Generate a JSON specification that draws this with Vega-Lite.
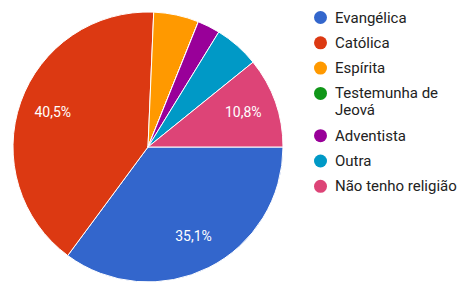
{
  "$schema": "https://vega.github.io/schema/vega-lite/v6.json",
  "width": 296,
  "height": 294,
  "padding": 0,
  "autosize": {"type": "pad"},
  "data": {
    "values": [
      {"religiao": "Evangélica", "pct": 0.35135, "ord": 1},
      {"religiao": "Católica", "pct": 0.40541, "ord": 2},
      {"religiao": "Espírita", "pct": 0.05405, "ord": 3},
      {"religiao": "Testemunha de Jeová", "pct": 0.0, "ord": 4},
      {"religiao": "Adventista", "pct": 0.02703, "ord": 5},
      {"religiao": "Outra", "pct": 0.05405, "ord": 6},
      {"religiao": "Não tenho religião", "pct": 0.10811, "ord": 7}
    ]
  },
  "config": {
    "view": {"stroke": null},
    "font": "Roboto",
    "locale": {
      "number": {"decimal": ",", "thousands": ".", "grouping": [3], "currency": ["", ""]}
    }
  },
  "encoding": {
    "theta": {
      "field": "pct",
      "type": "quantitative",
      "stack": true,
      "scale": {"range": [1.5708, 7.85398]}
    },
    "order": {"field": "ord", "type": "quantitative"},
    "color": {
      "field": "religiao",
      "type": "nominal",
      "scale": {
        "domain": ["Evangélica", "Católica", "Espírita", "Testemunha de Jeová", "Adventista", "Outra", "Não tenho religião"],
        "range": ["#3366cc", "#dc3912", "#ff9900", "#109618", "#990099", "#0099c6", "#dd4477"]
      },
      "legend": {
        "title": null,
        "orient": "none",
        "legendX": 313,
        "legendY": 10,
        "padding": 0,
        "symbolType": "circle",
        "symbolSize": 169,
        "symbolStrokeWidth": 0,
        "labelFontSize": 15,
        "labelColor": "#222222",
        "labelFont": "Roboto",
        "labelOffset": 7,
        "labelLimit": 200,
        "labelLineHeight": 21,
        "rowPadding": 9.3,
        "labelExpr": "datum.label == 'Testemunha de Jeová' ? ['Testemunha de', 'Jeová'] : datum.label"
      }
    }
  },
  "layer": [
    {"mark": {"type": "arc", "outerRadius": 135, "stroke": "white", "strokeWidth": 1}},
    {
      "mark": {"type": "text", "radius": 101, "fill": "white", "fontSize": 14, "font": "Roboto"},
      "encoding": {
        "text": {
          "condition": {"test": "datum.pct > 0.08", "field": "pct", "type": "quantitative", "format": ".1%"},
          "value": ""
        }
      }
    }
  ]
}
